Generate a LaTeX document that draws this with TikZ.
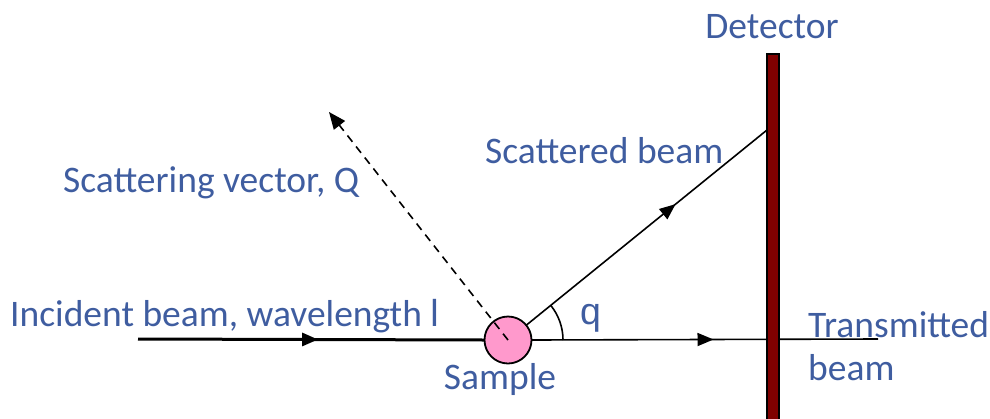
\documentclass[tikz,border=0pt]{standalone}
\usepackage{fontspec}
\setmainfont{Carlito}
\newfontfamily\symfont{Liberation Sans}
\usetikzlibrary{arrows.meta,decorations.markings}
\definecolor{txtblue}{RGB}{63,93,160}
\definecolor{detred}{RGB}{128,0,0}
\definecolor{samplepink}{RGB}{255,153,204}
\tikzset{
  lbl/.style={text=txtblue,font=\fontsize{37.5}{40}\selectfont,inner sep=0pt},
  beam/.style={line width=1.6pt,black},
  midarrow/.style={postaction={decorate},decoration={markings,
     mark=at position #1 with {\arrow{Triangle[length=16pt,width=13pt]}}}},
}
\begin{document}
\begin{tikzpicture}[x=1pt,y=-1pt]
\useasboundingbox (0,0) rectangle (990,418);
% coordinates
\coordinate (incstart) at (138,339);
\coordinate (transend) at (878,339);
\coordinate (hit) at (767,130);
\coordinate (qtip) at (329,112);
% transmitted line (behind detector)
\node[circle,minimum size=47pt,inner sep=0pt] (sampleshape) at (508,340) {};
\draw[beam,midarrow=0.525] (sampleshape.east) -- (transend);
% detector
\node[draw=black,line width=1.5pt,fill=detred,minimum width=12pt,minimum height=380pt,inner sep=0pt,anchor=north] (detector) at (773,53) {};
% incident beam
\draw[line width=3pt,midarrow=0.52] (incstart) -- (sampleshape.west);
% scattered beam
\draw[beam,midarrow=0.62] (sampleshape) -- (hit);
% sample circle
\node[circle,draw=black,line width=1.8pt,fill=samplepink,minimum size=47pt,inner sep=0pt] (sample) at (508,340) {};
% scattering vector
\draw[line width=1.6pt,dash pattern=on 8pt off 6pt,-{Triangle[length=17pt,width=14pt]}] (sample.center) -- (qtip);
% angle arc
\draw[line width=1.6pt] (563,340) arc[start angle=0,end angle=-39,radius=55];
% labels
\node[lbl] (ldet) at (772,27) {Detector};
\node[lbl,anchor=west] (lscat) at (485,151) {Scattered beam};
\node[lbl,anchor=west] (lvec) at (63,183) {Scattering vector, Q};
\node[lbl,anchor=west] (linc) at (10,316) {Incident beam, wavelength {\symfont l}};
\node[lbl,anchor=west] (lq) at (580,318) {\symfont q};
\node[lbl] (lsample) at (500,379) {Sample};
\node[lbl,anchor=west] (ltrans) at (808,325) {Transmitted};
\node[lbl,anchor=west] (lbeam) at (808,368) {beam};
\end{tikzpicture}
\end{document}
